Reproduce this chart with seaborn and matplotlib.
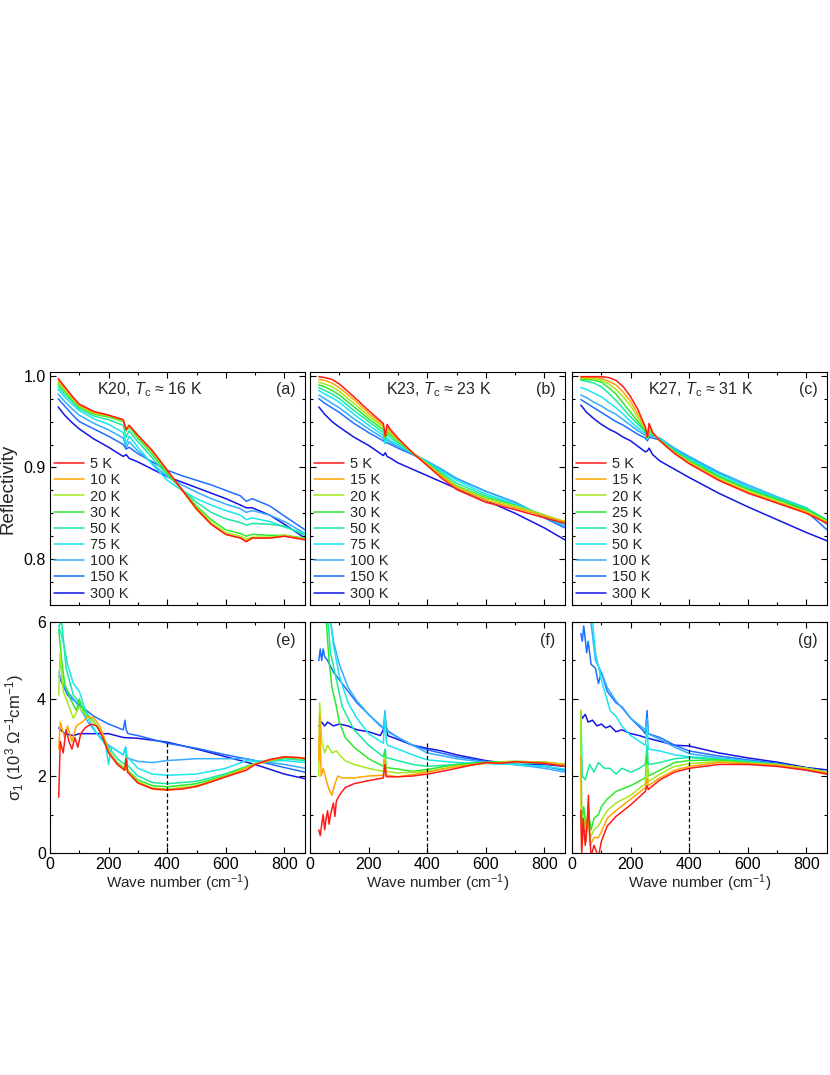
import matplotlib
matplotlib.use('Agg')
import matplotlib.pyplot as plt
import pandas as pd
import seaborn as sns
from matplotlib.ticker import MultipleLocator

# ---- data ----
colors = ['#ff1a1a', '#ffa500', '#a6e81e', '#2ee82e', '#1aeaa0',
          '#1ae6f0', '#33adff', '#1f6fff', '#1414e6']

temps_k20 = ['5 K', '10 K', '20 K', '30 K', '50 K', '75 K', '100 K', '150 K', '300 K']
temps_k23 = ['5 K', '15 K', '20 K', '30 K', '50 K', '75 K', '100 K', '150 K', '300 K']
temps_k27 = ['5 K', '15 K', '20 K', '25 K', '30 K', '50 K', '100 K', '150 K', '300 K']

# reflectivity, K20 (panel a)
a_w = [28, 50, 75, 100, 150, 200, 250, 260, 270, 300, 350, 400, 450, 500, 550, 600, 650, 670, 690, 750, 800, 870]
a_R = [
    [0.997, 0.988, 0.978, 0.969, 0.961, 0.957, 0.952, 0.941, 0.946, 0.935, 0.918, 0.897, 0.876, 0.855, 0.838, 0.827, 0.823, 0.819, 0.823, 0.823, 0.825, 0.821],
    [0.995, 0.987, 0.977, 0.968, 0.960, 0.957, 0.952, 0.942, 0.946, 0.935, 0.918, 0.897, 0.875, 0.854, 0.838, 0.827, 0.823, 0.820, 0.823, 0.823, 0.825, 0.822],
    [0.993, 0.985, 0.975, 0.967, 0.959, 0.956, 0.951, 0.941, 0.945, 0.934, 0.917, 0.896, 0.876, 0.856, 0.840, 0.829, 0.825, 0.822, 0.824, 0.824, 0.826, 0.822],
    [0.991, 0.983, 0.974, 0.966, 0.958, 0.955, 0.950, 0.940, 0.944, 0.932, 0.914, 0.894, 0.876, 0.858, 0.843, 0.832, 0.828, 0.825, 0.827, 0.826, 0.826, 0.823],
    [0.988, 0.980, 0.972, 0.964, 0.956, 0.952, 0.946, 0.933, 0.940, 0.928, 0.910, 0.892, 0.876, 0.862, 0.851, 0.844, 0.840, 0.837, 0.839, 0.838, 0.836, 0.826],
    [0.985, 0.977, 0.969, 0.962, 0.953, 0.947, 0.938, 0.926, 0.934, 0.922, 0.903, 0.886, 0.875, 0.866, 0.859, 0.853, 0.848, 0.843, 0.845, 0.841, 0.835, 0.828],
    [0.980, 0.972, 0.964, 0.957, 0.948, 0.941, 0.932, 0.922, 0.928, 0.918, 0.904, 0.890, 0.881, 0.873, 0.866, 0.860, 0.855, 0.851, 0.853, 0.848, 0.841, 0.828],
    [0.975, 0.967, 0.958, 0.950, 0.942, 0.934, 0.925, 0.920, 0.922, 0.915, 0.906, 0.897, 0.891, 0.886, 0.881, 0.875, 0.869, 0.863, 0.866, 0.858, 0.847, 0.832],
    [0.966, 0.957, 0.949, 0.942, 0.931, 0.922, 0.912, 0.914, 0.910, 0.906, 0.898, 0.890, 0.884, 0.878, 0.872, 0.866, 0.859, 0.856, 0.856, 0.848, 0.838, 0.823],
]

# reflectivity, K23 (panel b)
b_w = [30, 50, 75, 100, 150, 200, 250, 257, 263, 275, 300, 350, 400, 450, 500, 600, 700, 800, 870]
b_R = [
    [0.999, 0.998, 0.996, 0.991, 0.977, 0.962, 0.948, 0.934, 0.947, 0.941, 0.932, 0.916, 0.902, 0.888, 0.876, 0.862, 0.854, 0.845, 0.839],
    [0.996, 0.995, 0.992, 0.987, 0.974, 0.959, 0.946, 0.934, 0.945, 0.939, 0.931, 0.916, 0.903, 0.890, 0.878, 0.864, 0.856, 0.847, 0.841],
    [0.993, 0.991, 0.988, 0.983, 0.970, 0.956, 0.944, 0.933, 0.942, 0.937, 0.930, 0.916, 0.904, 0.891, 0.879, 0.866, 0.858, 0.848, 0.841],
    [0.990, 0.988, 0.984, 0.979, 0.966, 0.953, 0.941, 0.932, 0.939, 0.935, 0.929, 0.916, 0.904, 0.892, 0.880, 0.867, 0.858, 0.848, 0.840],
    [0.987, 0.984, 0.980, 0.975, 0.962, 0.950, 0.938, 0.930, 0.936, 0.932, 0.927, 0.915, 0.905, 0.894, 0.883, 0.869, 0.859, 0.848, 0.839],
    [0.984, 0.980, 0.976, 0.971, 0.958, 0.946, 0.935, 0.926, 0.932, 0.929, 0.925, 0.915, 0.906, 0.896, 0.886, 0.871, 0.860, 0.847, 0.838],
    [0.979, 0.975, 0.970, 0.965, 0.953, 0.942, 0.932, 0.926, 0.930, 0.927, 0.923, 0.915, 0.907, 0.898, 0.888, 0.874, 0.862, 0.846, 0.836],
    [0.975, 0.970, 0.965, 0.960, 0.948, 0.938, 0.929, 0.927, 0.927, 0.925, 0.921, 0.914, 0.906, 0.897, 0.888, 0.874, 0.862, 0.845, 0.834],
    [0.966, 0.958, 0.950, 0.944, 0.933, 0.924, 0.913, 0.916, 0.912, 0.910, 0.905, 0.898, 0.891, 0.884, 0.877, 0.864, 0.850, 0.834, 0.821],
]

# reflectivity, K27 (panel c)
c_w = [30, 50, 75, 100, 125, 150, 175, 200, 225, 250, 257, 263, 275, 300, 350, 400, 500, 600, 700, 800, 870]
c_R = [
    [0.999, 0.999, 0.999, 0.999, 0.998, 0.995, 0.988, 0.977, 0.963, 0.944, 0.933, 0.948, 0.938, 0.929, 0.915, 0.904, 0.886, 0.872, 0.861, 0.850, 0.839],
    [0.998, 0.998, 0.998, 0.997, 0.994, 0.990, 0.982, 0.972, 0.958, 0.943, 0.933, 0.946, 0.938, 0.929, 0.916, 0.905, 0.887, 0.873, 0.862, 0.851, 0.840],
    [0.997, 0.997, 0.997, 0.995, 0.991, 0.985, 0.977, 0.967, 0.954, 0.942, 0.932, 0.944, 0.937, 0.929, 0.916, 0.906, 0.888, 0.874, 0.863, 0.852, 0.841],
    [0.996, 0.996, 0.995, 0.993, 0.987, 0.980, 0.970, 0.960, 0.950, 0.940, 0.932, 0.942, 0.936, 0.930, 0.917, 0.907, 0.890, 0.876, 0.865, 0.854, 0.842],
    [0.995, 0.994, 0.992, 0.988, 0.981, 0.973, 0.964, 0.955, 0.947, 0.939, 0.932, 0.940, 0.936, 0.930, 0.918, 0.909, 0.891, 0.877, 0.866, 0.855, 0.843],
    [0.987, 0.985, 0.981, 0.977, 0.971, 0.965, 0.958, 0.950, 0.943, 0.937, 0.931, 0.937, 0.935, 0.931, 0.919, 0.910, 0.893, 0.879, 0.867, 0.856, 0.842],
    [0.979, 0.976, 0.971, 0.967, 0.962, 0.958, 0.952, 0.946, 0.940, 0.935, 0.931, 0.935, 0.934, 0.932, 0.921, 0.912, 0.895, 0.881, 0.868, 0.856, 0.838],
    [0.974, 0.970, 0.965, 0.960, 0.955, 0.950, 0.946, 0.941, 0.936, 0.932, 0.929, 0.933, 0.932, 0.930, 0.920, 0.911, 0.894, 0.879, 0.866, 0.852, 0.832],
    [0.968, 0.960, 0.953, 0.947, 0.942, 0.938, 0.933, 0.929, 0.923, 0.917, 0.918, 0.921, 0.914, 0.907, 0.898, 0.889, 0.872, 0.857, 0.843, 0.829, 0.820],
]

# optical conductivity, K20 (panel e)
e_w = [
    [30, 35, 45, 55, 65, 75, 85, 95, 105, 120, 140, 160, 180, 200, 230, 255, 260, 265, 300, 350, 400, 450, 500, 550, 600, 650, 670, 700, 750, 800, 850, 870],
    [30, 35, 50, 60, 75, 90, 110, 130, 150, 170, 200, 230, 255, 260, 265, 300, 350, 400, 500, 600, 700, 800, 870],
    [30, 35, 45, 60, 80, 100, 120, 150, 180, 200, 230, 255, 260, 265, 300, 350, 400, 500, 600, 700, 800, 870],
    [30, 40, 50, 70, 90, 100, 120, 150, 180, 200, 230, 255, 260, 265, 300, 350, 400, 500, 600, 700, 800, 870],
    [30, 40, 55, 80, 100, 130, 160, 200, 230, 255, 260, 265, 300, 350, 400, 500, 600, 670, 700, 800, 870],
    [30, 45, 60, 80, 100, 130, 160, 190, 200, 210, 250, 258, 262, 270, 300, 350, 400, 500, 600, 670, 700, 800, 870],
    [30, 50, 80, 100, 130, 160, 200, 250, 258, 262, 270, 300, 350, 400, 500, 600, 670, 700, 800, 870],
    [30, 60, 100, 150, 200, 250, 256, 260, 266, 300, 400, 500, 600, 700, 800, 870],
    [30, 50, 80, 100, 150, 200, 250, 300, 400, 500, 600, 700, 800, 870],
]
e_s = [
    [1.45, 2.9, 2.6, 3.2, 2.9, 2.7, 3.0, 2.75, 3.1, 3.25, 3.35, 3.3, 3.0, 2.6, 2.3, 2.15, 2.45, 2.1, 1.82, 1.67, 1.64, 1.66, 1.73, 1.85, 1.98, 2.1, 2.15, 2.3, 2.43, 2.5, 2.48, 2.45],
    [2.7, 3.4, 3.0, 3.3, 2.9, 3.3, 3.4, 3.55, 3.5, 3.3, 2.65, 2.3, 2.15, 2.4, 2.1, 1.82, 1.66, 1.63, 1.72, 1.98, 2.3, 2.5, 2.46],
    [4.1, 5.2, 4.2, 3.9, 3.5, 3.8, 3.6, 3.4, 3.1, 2.65, 2.32, 2.17, 2.45, 2.12, 1.85, 1.69, 1.66, 1.75, 2.0, 2.32, 2.5, 2.46],
    [5.8, 5.0, 4.4, 4.0, 3.7, 4.0, 3.6, 3.4, 3.05, 2.65, 2.35, 2.2, 2.45, 2.15, 1.9, 1.75, 1.72, 1.8, 2.02, 2.33, 2.48, 2.44],
    [5.9, 6.0, 4.8, 4.1, 3.9, 3.6, 3.3, 2.75, 2.45, 2.3, 2.55, 2.28, 2.0, 1.83, 1.8, 1.86, 2.06, 2.25, 2.32, 2.45, 2.4],
    [5.9, 5.5, 4.9, 4.4, 4.2, 3.5, 3.1, 2.8, 2.3, 2.75, 2.55, 2.75, 2.5, 2.45, 2.2, 2.05, 2.02, 2.05, 2.2, 2.4, 2.38, 2.4, 2.35],
    [4.7, 4.3, 4.0, 3.8, 3.4, 3.1, 2.8, 2.55, 2.75, 2.5, 2.45, 2.38, 2.35, 2.4, 2.45, 2.45, 2.45, 2.4, 2.3, 2.2],
    [4.6, 4.1, 3.85, 3.55, 3.35, 3.2, 3.45, 3.2, 3.1, 3.05, 2.85, 2.72, 2.55, 2.4, 2.22, 2.1],
    [3.25, 3.1, 3.05, 3.1, 3.1, 3.1, 3.0, 2.98, 2.88, 2.7, 2.5, 2.3, 2.05, 1.93],
]

# optical conductivity, K23 (panel f)
f_w = [
    [30, 35, 40, 45, 50, 55, 60, 65, 70, 80, 85, 90, 100, 120, 150, 200, 250, 256, 260, 300, 350, 400, 450, 500, 550, 600, 650, 700, 750, 800, 870],
    [30, 33, 38, 45, 55, 65, 75, 85, 95, 110, 150, 200, 250, 256, 260, 300, 400, 500, 600, 700, 800, 870],
    [30, 33, 40, 50, 60, 75, 90, 100, 120, 150, 200, 250, 256, 260, 300, 400, 500, 600, 700, 800, 870],
    [50, 65, 75, 90, 100, 120, 150, 200, 250, 256, 260, 300, 350, 400, 500, 600, 700, 800, 870],
    [55, 70, 90, 110, 150, 200, 250, 256, 260, 300, 350, 400, 500, 600, 700, 800, 870],
    [60, 80, 100, 130, 160, 200, 250, 256, 260, 265, 300, 350, 400, 500, 600, 700, 800, 870],
    [60, 80, 100, 130, 160, 200, 250, 256, 260, 265, 300, 350, 400, 500, 600, 700, 800, 870],
    [30, 35, 40, 45, 50, 60, 80, 100, 130, 160, 200, 240, 300, 350, 400, 500, 600, 700, 800, 870],
    [30, 40, 50, 60, 80, 100, 130, 160, 200, 240, 250, 255, 265, 300, 350, 400, 450, 500, 600, 700, 800, 870],
]
f_s = [
    [0.6, 0.45, 0.75, 1.0, 0.6, 0.9, 1.1, 0.75, 1.0, 1.3, 0.95, 1.35, 1.5, 1.7, 1.8, 1.88, 1.95, 2.3, 1.98, 1.98, 2.0, 2.05, 2.12, 2.2, 2.28, 2.35, 2.33, 2.37, 2.35, 2.33, 2.25],
    [2.4, 3.6, 2.0, 2.2, 1.9, 1.65, 1.5, 1.8, 2.0, 1.95, 1.95, 2.0, 2.02, 2.4, 2.02, 1.98, 2.1, 2.25, 2.33, 2.37, 2.35, 2.3],
    [2.0, 3.9, 2.9, 2.6, 2.8, 2.6, 2.65, 2.55, 2.4, 2.3, 2.2, 2.12, 2.5, 2.12, 2.08, 2.12, 2.25, 2.33, 2.38, 2.36, 2.3],
    [6.6, 5.0, 4.3, 3.8, 3.4, 3.0, 2.75, 2.45, 2.25, 2.6, 2.22, 2.18, 2.12, 2.17, 2.3, 2.36, 2.38, 2.36, 2.3],
    [6.6, 5.2, 4.5, 3.8, 3.2, 2.8, 2.5, 2.7, 2.48, 2.4, 2.3, 2.25, 2.3, 2.35, 2.35, 2.32, 2.28],
    [6.6, 5.4, 4.6, 3.9, 3.5, 3.1, 2.85, 3.6, 2.9, 2.8, 2.7, 2.55, 2.42, 2.35, 2.32, 2.3, 2.25, 2.18],
    [6.6, 5.5, 4.9, 4.3, 3.95, 3.6, 3.25, 3.7, 3.3, 3.15, 3.0, 2.8, 2.6, 2.45, 2.35, 2.3, 2.2, 2.1],
    [5.0, 5.3, 5.0, 5.3, 5.1, 5.0, 4.7, 4.5, 4.2, 3.9, 3.6, 3.3, 3.0, 2.8, 2.68, 2.5, 2.38, 2.3, 2.25, 2.15],
    [3.3, 3.4, 3.3, 3.4, 3.3, 3.35, 3.3, 3.2, 3.15, 3.05, 3.2, 3.5, 3.05, 2.95, 2.8, 2.72, 2.65, 2.55, 2.4, 2.3, 2.3, 2.25],
]

# optical conductivity, K27 (panel g)
g_w = [
    [30, 33, 38, 45, 52, 56, 60, 65, 75, 90, 100, 120, 150, 200, 250, 256, 260, 300, 350, 400, 500, 600, 700, 800, 870],
    [30, 33, 40, 48, 55, 62, 75, 90, 100, 120, 150, 200, 250, 256, 260, 300, 350, 400, 500, 600, 700, 800, 870],
    [30, 33, 40, 48, 55, 62, 75, 90, 100, 120, 150, 200, 250, 256, 260, 300, 350, 400, 500, 600, 700, 800, 870],
    [30, 33, 40, 48, 55, 65, 75, 90, 100, 120, 150, 200, 250, 256, 260, 300, 350, 400, 500, 600, 700, 800, 870],
    [30, 35, 45, 60, 75, 90, 110, 130, 150, 170, 200, 230, 250, 256, 260, 300, 350, 400, 500, 600, 700, 800, 870],
    [63, 80, 100, 130, 150, 170, 200, 250, 256, 260, 300, 350, 400, 500, 600, 700, 800, 870],
    [55, 80, 100, 120, 150, 200, 250, 256, 260, 300, 350, 400, 500, 600, 700, 800, 870],
    [30, 35, 40, 50, 55, 65, 80, 90, 100, 120, 150, 170, 200, 240, 250, 256, 260, 300, 350, 400, 500, 600, 700, 800, 870],
    [30, 35, 45, 55, 70, 85, 100, 115, 130, 150, 170, 200, 230, 250, 300, 350, 400, 500, 600, 700, 800, 870],
]
g_s = [
    [1.1, 0.0, 0.9, 0.2, 0.8, 1.5, 0.5, -0.1, 0.2, -0.1, 0.3, 0.7, 0.95, 1.25, 1.6, 1.75, 1.65, 1.9, 2.1, 2.2, 2.3, 2.3, 2.25, 2.15, 2.05],
    [2.5, 0.1, 0.6, 0.3, 1.2, 0.2, 0.4, 0.4, 0.55, 0.9, 1.1, 1.4, 1.7, 1.95, 1.75, 1.95, 2.15, 2.25, 2.35, 2.32, 2.28, 2.18, 2.08],
    [3.7, 0.3, 0.9, 0.5, 0.8, 0.4, 0.6, 0.7, 0.85, 1.1, 1.3, 1.5, 1.8, 2.3, 1.85, 2.05, 2.25, 2.32, 2.38, 2.33, 2.3, 2.2, 2.1],
    [3.7, 0.8, 1.2, 0.6, 1.1, 0.6, 0.9, 1.0, 1.2, 1.4, 1.6, 1.75, 1.95, 2.55, 2.0, 2.15, 2.35, 2.4, 2.42, 2.35, 2.3, 2.2, 2.1],
    [3.7, 2.0, 1.9, 2.3, 2.1, 2.35, 2.2, 2.2, 2.05, 2.2, 2.1, 2.2, 2.3, 2.8, 2.3, 2.35, 2.45, 2.48, 2.42, 2.37, 2.3, 2.2, 2.1],
    [6.6, 5.2, 4.5, 3.7, 3.55, 3.3, 3.05, 2.8, 3.3, 2.7, 2.65, 2.55, 2.5, 2.45, 2.38, 2.3, 2.2, 2.1],
    [6.6, 5.0, 4.7, 4.3, 3.95, 3.5, 3.2, 3.5, 3.1, 2.95, 2.75, 2.58, 2.47, 2.4, 2.3, 2.15, 2.05],
    [5.7, 5.5, 5.9, 5.2, 5.5, 4.9, 4.8, 4.4, 4.7, 4.2, 3.9, 3.8, 3.5, 3.2, 3.1, 3.7, 3.1, 3.0, 2.8, 2.65, 2.52, 2.42, 2.33, 2.18, 2.08],
    [3.6, 3.5, 3.6, 3.4, 3.45, 3.3, 3.35, 3.25, 3.3, 3.15, 3.2, 3.1, 3.05, 3.0, 2.9, 2.8, 2.78, 2.6, 2.47, 2.36, 2.22, 2.16],
]

titles = [r'K20, $T_{\mathrm{c}}$ ≈ 16 K', r'K23, $T_{\mathrm{c}}$ ≈ 23 K', r'K27, $T_{\mathrm{c}}$ ≈ 31 K']
title_x = [0.39, 0.505, 0.505]
tags_top = ['(a)', '(b)', '(c)']
tags_bottom = ['(e)', '(f)', '(g)']
marker_w = 400
marker_top = 2.9

# ---- style ----
sns.set_theme(style='ticks')
plt.rcParams['font.family'] = ['Liberation Sans', 'DejaVu Sans']
plt.rcParams['mathtext.fontset'] = 'custom'
plt.rcParams['mathtext.rm'] = 'Liberation Sans'
plt.rcParams['mathtext.it'] = 'Liberation Sans:italic'
plt.rcParams['mathtext.bf'] = 'Liberation Sans:bold'
plt.rcParams['axes.edgecolor'] = 'black'
plt.rcParams['axes.linewidth'] = 0.8
plt.rcParams['xtick.color'] = 'black'
plt.rcParams['ytick.color'] = 'black'


def draw_curves(ax, xs, ys, labels=None):
    # draw the warmest first so 5 K ends up on top
    for i in reversed(range(len(ys))):
        x = xs[i] if isinstance(xs[i], list) else xs
        df = pd.DataFrame({'w': x, 'v': ys[i]})
        sns.lineplot(data=df, x='w', y='v', color=colors[i], lw=1.1,
                     sort=False, estimator=None, ax=ax,
                     label=labels[i] if labels else None, legend=False)


def style_axes(ax, top_row):
    ax.set_xlim(0, 870)
    ax.xaxis.set_major_locator(MultipleLocator(200))
    ax.xaxis.set_minor_locator(MultipleLocator(100))
    if top_row:
        ax.set_ylim(0.75, 1.004)
        ax.set_yticks([0.8, 0.9, 1.0])
        ax.yaxis.set_minor_locator(MultipleLocator(0.025))
    else:
        ax.set_ylim(0, 6)
        ax.set_yticks([0, 2, 4, 6])
        ax.yaxis.set_minor_locator(MultipleLocator(1))
    ax.tick_params(which='both', direction='in', top=True, right=True,
                   labelsize=11.5, pad=3)
    ax.tick_params(which='major', length=4, width=0.8)
    ax.tick_params(which='minor', length=2, width=0.8)
    ax.set_xlabel('')
    ax.set_ylabel('')


fig = plt.figure(figsize=(8.3, 10.75), dpi=100)
lefts = [0.0602, 0.3735, 0.6892]
width = 0.3072

top_axes = [fig.add_axes([l, 0.4372, width, 0.2167]) for l in lefts]
bot_axes = [fig.add_axes([l, 0.2065, width, 0.2149]) for l in lefts]

top_data = [(a_w, a_R, temps_k20), (b_w, b_R, temps_k23), (c_w, c_R, temps_k27)]
bot_data = [(e_w, e_s), (f_w, f_s), (g_w, g_s)]

for k, ax in enumerate(top_axes):
    w, R, temps = top_data[k]
    draw_curves(ax, w, R, temps)
    style_axes(ax, True)
    ax.tick_params(labelbottom=False)
    if k > 0:
        ax.tick_params(labelleft=False)
    handles, labels = ax.get_legend_handles_labels()
    ax.legend(handles[::-1], labels[::-1], loc='lower left', frameon=False,
              fontsize=10.5, handlelength=2.0, handletextpad=0.45,
              labelspacing=0.15, borderpad=0.15, borderaxespad=0.15)
    ax.text(title_x[k], 0.923, titles[k], transform=ax.transAxes,
            ha='center', va='center', fontsize=11.5)
    ax.text(0.962, 0.923, tags_top[k], transform=ax.transAxes,
            ha='right', va='center', fontsize=11.5)

for k, ax in enumerate(bot_axes):
    w, s = bot_data[k]
    draw_curves(ax, w, s)
    ax.vlines(marker_w, 0, marker_top, colors='black', linestyles=(0, (3, 2)), lw=0.9)
    style_axes(ax, False)
    if k > 0:
        ax.tick_params(labelleft=False)
    ax.set_xlabel('Wave number (cm$^{-1}$)', fontsize=11, labelpad=0)
    ax.text(0.962, 0.922, tags_bottom[k], transform=ax.transAxes,
            ha='right', va='center', fontsize=11.5)

top_axes[0].set_ylabel('Reflectivity', fontsize=13.5, labelpad=5)
bot_axes[0].set_ylabel(r'σ$_1$ (10$^3$ Ω$^{-1}$cm$^{-1}$)', fontsize=12, labelpad=8)

fig.savefig('out.png', dpi=100)
